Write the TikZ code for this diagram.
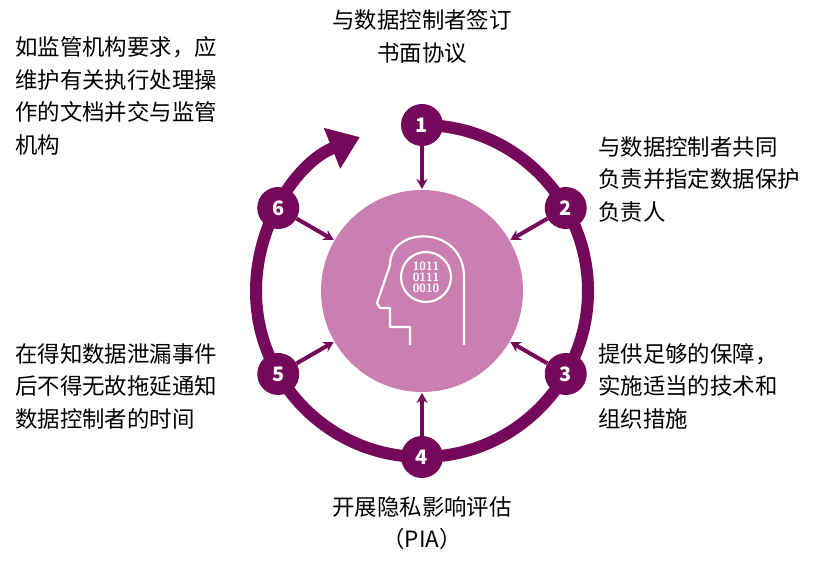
\documentclass[tikz,border=0pt]{standalone}
\usepackage{fontspec}
\setmainfont{Noto Sans CJK SC}
\usetikzlibrary{arrows.meta}
\definecolor{plum}{HTML}{75085A}
\definecolor{mauve}{HTML}{C97FAF}
\begin{document}
\begin{tikzpicture}[x=1bp,y=1bp,
    step_node/.style={
      circle,
      fill=plum,
      text=white,
      inner sep=0pt,
      minimum size=42bp,
      font=\fontsize{20}{20}\selectfont\bfseries},
    arrow_in/.style={
      -{Stealth[length=10bp,width=11bp]},
      draw=plum,
      line width=4bp},
    label_txt/.style={
      font=\fontsize{22.5}{33}\selectfont,
      inner sep=0pt}
]
    \useasboundingbox (0,0) rectangle (825,561);
    %centre
    \coordinate (c) at (422,270);
    \node[circle,fill=mauve,minimum size=202bp,inner sep=0pt] (core) at (c) {};

    %ring
    \draw[plum,line width=12bp,-{Triangle[length=30bp,width=42bp]}]
      ([shift={(90:166)}]c) arc[start angle=90,end angle=-248,radius=166];

    %steps
    \foreach \n/\a in {1/90,2/30,3/-30,4/-90,5/-150,6/150}{
      \node[step_node] (s\n) at ([shift={(\a:166)}]c) {\n};
      \coordinate (e\n) at ([shift={(\a:102)}]c);
      \draw[arrow_in] (s\n) -- (e\n);
    }

    %head icon
    \draw[white,line width=2.2bp,line join=round]
      (464,216) -- (464,284) .. controls (464,336) and (390,336) .. (390,296)
      -- (377,258) -- (380,253) -- (390,253) -- (390,234) -- (410,234) -- (410,216);
    \draw[white,line width=2.2bp] (426,284) circle[radius=25];
    \node[white,align=center,inner sep=0pt,
      font=\fontsize{12}{11}\selectfont\bfseries\sffamily] (bits) at (426,284) {1011\\0111\\0010};

    %texts
    \node[label_txt,align=center,anchor=north] (t1) at (422,552) {与数据控制者签订\\书面协议};
    \node[label_txt,align=left,anchor=north west] (t2) at (598,425) {与数据控制者共同\\负责并指定数据保护\\负责人};
    \node[label_txt,align=left,anchor=north west] (t3) at (598,218) {提供足够的保障，\\实施适当的技术和\\组织措施};
    \node[label_txt,align=center,anchor=north] (t4) at (422,65) {开展隐私影响评估\\（PIA）};
    \node[label_txt,align=left,anchor=north west] (t5) at (15,218) {在得知数据泄漏事件\\后不得无故拖延通知\\数据控制者的时间};
    \node[label_txt,align=left,anchor=north west] (t6) at (15,525) {如监管机构要求，应\\维护有关执行处理操\\作的文档并交与监管\\机构};
\end{tikzpicture}
\end{document}
